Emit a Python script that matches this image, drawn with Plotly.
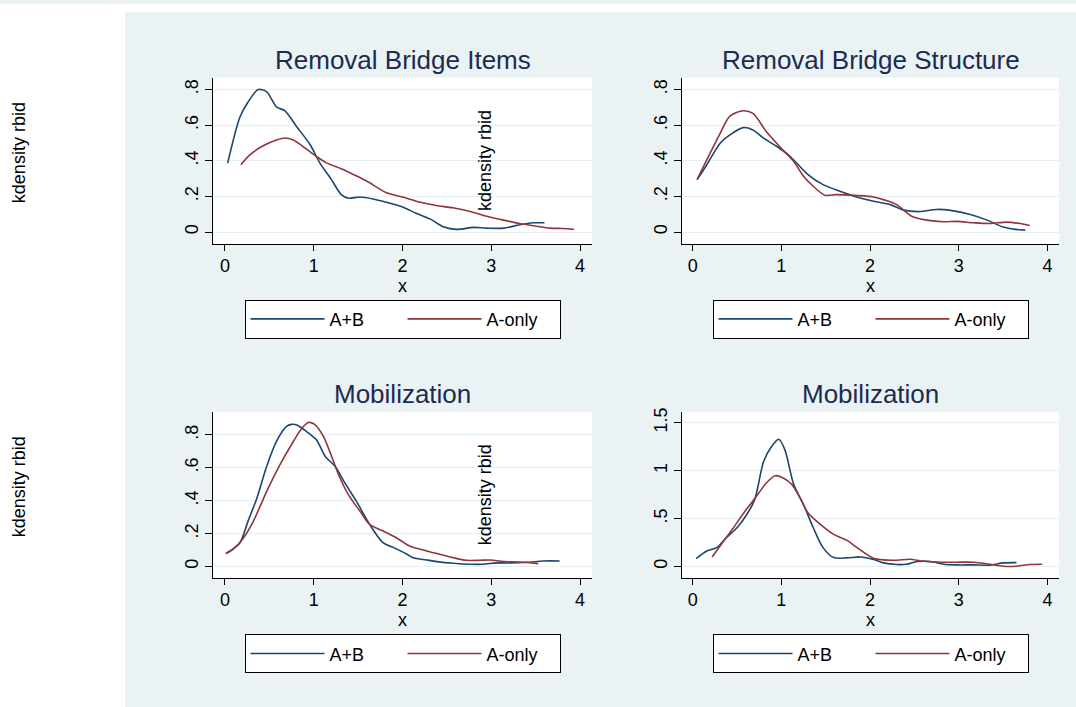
import plotly.graph_objects as go

# ---------------- data ----------------
series_names = ["A+B", "A-only"]
panel_titles = ["Removal Bridge Items", "Removal Bridge Structure", "Mobilization", "Mobilization"]

p1_ab_x = [0.03, 0.17, 0.26, 0.375, 0.47, 0.58, 0.676, 0.81, 0.96, 1.07, 1.2, 1.31, 1.39, 1.52, 1.67, 1.82, 2.0, 2.16, 2.31, 2.46, 2.61, 2.8, 2.95, 3.14, 3.32, 3.47, 3.6]
p1_ab_y = [0.387, 0.647, 0.73, 0.80, 0.787, 0.703, 0.68, 0.59, 0.49, 0.387, 0.294, 0.21, 0.19, 0.197, 0.186, 0.167, 0.141, 0.104, 0.074, 0.03, 0.015, 0.026, 0.022, 0.022, 0.041, 0.052, 0.052]
p1_ao_x = [0.18, 0.28, 0.43, 0.58, 0.676, 0.77, 0.88, 1.03, 1.15, 1.31, 1.45, 1.6, 1.82, 2.0, 2.2, 2.38, 2.57, 2.76, 2.95, 3.14, 3.32, 3.51, 3.66, 3.81, 3.93]
p1_ao_y = [0.378, 0.433, 0.484, 0.517, 0.528, 0.517, 0.48, 0.424, 0.387, 0.355, 0.322, 0.285, 0.22, 0.197, 0.167, 0.149, 0.136, 0.115, 0.089, 0.067, 0.048, 0.033, 0.022, 0.020, 0.015]

p2_ab_x = [0.05, 0.16, 0.31, 0.42, 0.57, 0.68, 0.80, 0.95, 1.1, 1.29, 1.47, 1.66, 1.85, 2.04, 2.23, 2.38, 2.56, 2.75, 2.94, 3.13, 3.32, 3.5, 3.64, 3.75]
p2_ab_y = [0.294, 0.378, 0.499, 0.545, 0.586, 0.573, 0.527, 0.48, 0.424, 0.327, 0.266, 0.229, 0.197, 0.173, 0.154, 0.123, 0.115, 0.127, 0.119, 0.099, 0.067, 0.028, 0.015, 0.011]
p2_ao_x = [0.05, 0.16, 0.31, 0.42, 0.57, 0.68, 0.83, 0.98, 1.14, 1.25, 1.36, 1.49, 1.62, 1.85, 2.04, 2.15, 2.3, 2.47, 2.64, 2.83, 2.98, 3.17, 3.35, 3.54, 3.69, 3.8]
p2_ao_y = [0.294, 0.406, 0.554, 0.651, 0.681, 0.666, 0.564, 0.48, 0.396, 0.313, 0.257, 0.207, 0.21, 0.205, 0.197, 0.182, 0.154, 0.089, 0.067, 0.058, 0.06, 0.052, 0.048, 0.056, 0.048, 0.037]

p3_ab_x = [0.01, 0.09, 0.17, 0.26, 0.36, 0.47, 0.58, 0.69, 0.75, 0.81, 0.92, 1.03, 1.13, 1.24, 1.35, 1.48, 1.63, 1.78, 1.9, 2.05, 2.12, 2.27, 2.39, 2.57, 2.76, 2.91, 3.06, 3.21, 3.4, 3.59, 3.77]
p3_ab_y = [0.079, 0.105, 0.145, 0.276, 0.417, 0.609, 0.76, 0.85, 0.864, 0.86, 0.82, 0.77, 0.669, 0.609, 0.508, 0.397, 0.256, 0.145, 0.115, 0.075, 0.054, 0.04, 0.03, 0.02, 0.014, 0.014, 0.022, 0.022, 0.026, 0.034, 0.034]
p3_ao_x = [0.01, 0.11, 0.21, 0.32, 0.47, 0.62, 0.77, 0.86, 0.94, 1.01, 1.11, 1.18, 1.28, 1.39, 1.52, 1.63, 1.78, 1.93, 2.08, 2.27, 2.42, 2.57, 2.72, 2.87, 2.99, 3.14, 3.32, 3.53]
p3_ao_y = [0.079, 0.115, 0.175, 0.276, 0.457, 0.619, 0.76, 0.836, 0.875, 0.864, 0.79, 0.7, 0.558, 0.437, 0.337, 0.256, 0.216, 0.175, 0.125, 0.095, 0.075, 0.054, 0.038, 0.038, 0.04, 0.03, 0.028, 0.018]

p4_ab_x = [0.04, 0.16, 0.27, 0.38, 0.5, 0.61, 0.7, 0.8, 0.89, 0.97, 1.04, 1.14, 1.25, 1.36, 1.47, 1.59, 1.74, 1.89, 2.04, 2.15, 2.3, 2.41, 2.53, 2.68, 2.83, 2.98, 3.17, 3.35, 3.5, 3.65]
p4_ab_y = [0.083, 0.162, 0.197, 0.3, 0.404, 0.543, 0.698, 1.096, 1.251, 1.327, 1.217, 0.854, 0.646, 0.404, 0.197, 0.093, 0.09, 0.1, 0.073, 0.038, 0.021, 0.024, 0.052, 0.052, 0.024, 0.017, 0.017, 0.014, 0.038, 0.041]
p4_ao_x = [0.22, 0.35, 0.46, 0.59, 0.72, 0.83, 0.93, 1.02, 1.12, 1.21, 1.3, 1.44, 1.59, 1.74, 1.89, 2.04, 2.15, 2.3, 2.45, 2.6, 2.83, 2.98, 3.17, 3.35, 3.5, 3.65, 3.8, 3.94]
p4_ao_y = [0.1, 0.266, 0.404, 0.577, 0.733, 0.871, 0.947, 0.923, 0.854, 0.716, 0.56, 0.439, 0.335, 0.273, 0.173, 0.086, 0.069, 0.066, 0.076, 0.055, 0.045, 0.045, 0.045, 0.024, 0.003, 0.003, 0.021, 0.024]

x_tickvals = [0, 1, 2, 3, 4]
x_ticktext = ["0", "1", "2", "3", "4"]
y_tickvals_a = [0, 0.2, 0.4, 0.6, 0.8]
y_ticktext_a = ["0", ".2", ".4", ".6", ".8"]
y_tickvals_b = [0, 0.5, 1, 1.5]
y_ticktext_b = ["0", ".5", "1", "1.5"]

# ---------------- styling / layout ----------------
W, H = 1076, 707
FONT = "Liberation Sans, Arial, sans-serif"
BLUE = "#1a476f"
RED = "#90353b"
BG = "#eaf2f3"
TITLE_C = "#1c2b52"
GRID = "#e6eef0"


def fx(p):
    return p / W


def fy(p):
    return 1 - p / H


panels = [
    dict(ab=(p1_ab_x, p1_ab_y), ao=(p1_ao_x, p1_ao_y), xd=(213, 592), yd=(74, 241),
         xr=[-0.135, 4.135], yr=[-0.065, 0.867], yt=(y_tickvals_a, y_ticktext_a),
         leg=(402.5, 317), ty=56),
    dict(ab=(p2_ab_x, p2_ab_y), ao=(p2_ao_x, p2_ao_y), xd=(682, 1059), yd=(74, 241),
         xr=[-0.12, 4.13], yr=[-0.065, 0.867], yt=(y_tickvals_a, y_ticktext_a),
         leg=(870.5, 317), ty=56),
    dict(ab=(p3_ab_x, p3_ab_y), ao=(p3_ao_x, p3_ao_y), xd=(213, 592), yd=(410, 577),
         xr=[-0.135, 4.135], yr=[-0.068, 0.941], yt=(y_tickvals_a, y_ticktext_a),
         leg=(402.5, 653.5), ty=392),
    dict(ab=(p4_ab_x, p4_ab_y), ao=(p4_ao_x, p4_ao_y), xd=(682, 1059), yd=(410, 577),
         xr=[-0.12, 4.13], yr=[-0.117, 1.615], yt=(y_tickvals_b, y_ticktext_b),
         leg=(870.5, 653.5), ty=392),
]

fig = go.Figure()
layout = dict(
    width=W, height=H,
    margin=dict(l=0, r=0, t=0, b=0),
    paper_bgcolor=BG, plot_bgcolor="white",
    font=dict(family=FONT, color="black"),
    showlegend=True,
    shapes=[
        dict(type="rect", xref="paper", yref="paper", x0=0, x1=fx(125), y0=0, y1=1,
             fillcolor="white", line=dict(width=0), layer="below"),
        dict(type="rect", xref="paper", yref="paper", x0=0, x1=1, y0=fy(8), y1=1,
             fillcolor="white", line=dict(width=0), layer="below"),
    ],
    annotations=[],
)

for i, p in enumerate(panels, start=1):
    sfx = "" if i == 1 else str(i)
    legname = "legend" if i == 1 else f"legend{i}"
    for (xs, ys), name, col in ((p["ab"], series_names[0], BLUE), (p["ao"], series_names[1], RED)):
        fig.add_trace(go.Scatter(
            x=xs, y=ys, mode="lines", name=name,
            line=dict(color=col, width=1.6, shape="spline", smoothing=0.8),
            xaxis=f"x{sfx}", yaxis=f"y{sfx}", legend=legname, hoverinfo="skip",
        ))
    layout[f"xaxis{sfx}"] = dict(
        domain=[fx(p["xd"][0]), fx(p["xd"][1])], range=p["xr"], anchor=f"y{sfx}",
        showgrid=False, zeroline=False, showline=True, linecolor="black", linewidth=1,
        ticks="outside", ticklen=6, tickcolor="black", tickvals=x_tickvals, ticktext=x_ticktext,
        tickfont=dict(size=18), title=dict(text="x", font=dict(size=18), standoff=0),
    )
    layout[f"yaxis{sfx}"] = dict(
        domain=[fy(p["yd"][1]), fy(p["yd"][0])], range=p["yr"], anchor=f"x{sfx}",
        showgrid=True, gridcolor=GRID, gridwidth=1, zeroline=False, showline=True,
        linecolor="black", linewidth=1, ticks="outside", ticklen=7, tickcolor="black",
        tickvals=p["yt"][0], ticktext=p["yt"][1], tickangle=-90, tickfont=dict(size=18),
    )
    layout[legname] = dict(
        x=fx(p["leg"][0]), y=fy(p["leg"][1]), xanchor="center", yanchor="middle",
        orientation="h", bgcolor="white", bordercolor="black", borderwidth=1,
        font=dict(size=18), itemwidth=74, entrywidth=68, itemclick=False,
    )
    layout["annotations"].append(dict(
        text=panel_titles[i - 1], xref="paper", yref="paper",
        x=fx((p["xd"][0] + p["xd"][1]) / 2), y=fy(p["ty"]), xanchor="center", yanchor="middle",
        showarrow=False, font=dict(size=26, color=TITLE_C),
    ))

# stray y-axis titles (as in the reference)
for (xp, yp) in ((19, 150), (19, 486), (485, 158), (485, 494)):
    layout["annotations"].append(dict(
        text="kdensity rbid", xref="paper", yref="paper", x=fx(xp), y=fy(yp),
        xanchor="center", yanchor="middle", textangle=-90, showarrow=False,
        font=dict(size=18, color="black"),
    ))

fig.update_layout(**layout)
fig.write_html("out.html")
